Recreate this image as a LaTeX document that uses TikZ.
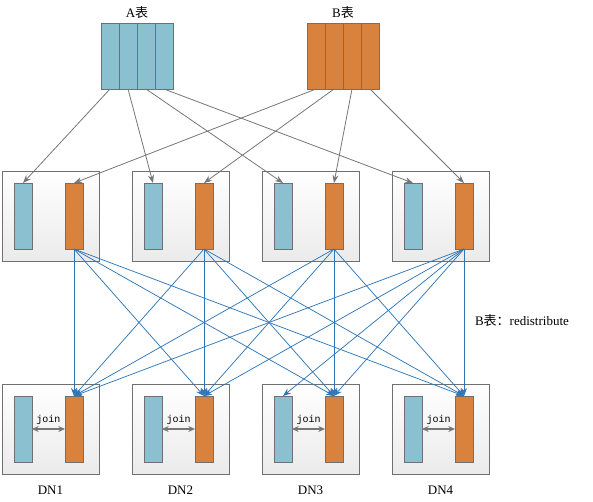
\documentclass[tikz,border=0pt]{standalone}
\usepackage{fontspec}
\setmainfont{Liberation Serif}
\setmonofont{Liberation Mono}
\newfontfamily\cjk{Noto Sans CJK SC}
\usetikzlibrary{arrows.meta,shadows}
\definecolor{barblue}{RGB}{139,192,209}
\definecolor{barorange}{RGB}{217,130,61}
\definecolor{edgegray}{RGB}{112,112,112}
\definecolor{linkblue}{RGB}{46,117,182}
\definecolor{arrgray}{RGB}{118,118,118}
\begin{document}
\begin{tikzpicture}[x=0.75pt,y=-0.75pt,
  every node/.style={inner sep=0pt,outer sep=0pt},
  box/.style={draw=edgegray,line width=0.75pt,top color=white,bottom color=black!8,
    minimum width=72.75pt,minimum height=67.5pt,
    drop shadow={opacity=0.18,shadow xshift=1pt,shadow yshift=-1pt}},
  bar/.style={draw=edgegray,line width=0.75pt,minimum width=13.5pt,minimum height=49.5pt},
  bluebar/.style={bar,fill=barblue},
  orangebar/.style={bar,fill=barorange},
  barsh/.style={drop shadow={opacity=0.2,shadow xshift=0.8pt,shadow yshift=-0.8pt}},
  grayarrow/.style={draw=arrgray,line width=0.6pt,-{Stealth[length=6pt,width=4.5pt]}},
  bluearrow/.style={draw=linkblue,line width=0.55pt,-{Stealth[length=6pt,width=4.5pt]}},
  joinarrow/.style={draw=arrgray,line width=0.9pt,{Stealth[length=5pt,width=4.5pt]}-{Stealth[length=5pt,width=4.5pt]}},
  lbl/.style={font=\fontsize{9.75}{12}\selectfont},
  joinlbl/.style={font=\ttfamily\fontsize{7.5}{9}\selectfont}
]
\useasboundingbox (0,0) rectangle (593,501);

% top tables
\foreach \i in {1,...,4}{
  \node[bluebar] (A\i) at ({110+18*(\i-1)},56) {};
  \node[orangebar] (B\i) at ({316+18*(\i-1)},56) {};
}
\node[lbl] (lblA) at (137,13) {A{\cjk 表}};
\node[lbl] (lblB) at (343,13) {B{\cjk 表}};

% middle and bottom boxes
\foreach \i in {1,...,4}{
  \node[box] (M\i) at ({50.5+130*(\i-1)},216) {};
  \node[bluebar,barsh] (MA\i) at ({23+130*(\i-1)},216) {};
  \node[orangebar,barsh] (MB\i) at ({74+130*(\i-1)},216) {};
  \node[box] (D\i) at ({50.5+130*(\i-1)},429) {};
  \node[bluebar,barsh] (DA\i) at ({23+130*(\i-1)},429) {};
  \node[orangebar,barsh] (DB\i) at ({74+130*(\i-1)},429) {};
  \node[lbl] (DN\i) at ({50.5+130*(\i-1)},490) {DN\i};
  \draw[joinarrow] (DA\i.east) -- (DB\i.west);
  \node[joinlbl] (J\i) at ({48.5+130*(\i-1)},420) {join};
}

% top to middle
\foreach \i in {1,...,4}{
  \draw[grayarrow] (A\i.south) -- (MA\i.north);
  \draw[grayarrow] (B\i.south) -- (MB\i.north);
}

% middle to bottom
\foreach \i in {1,...,4}{
  \foreach \j in {1,...,4}{
    \draw[bluearrow] (MB\i.south) -- (DB\j.north);
  }
}
\draw[bluearrow] (MB4.south) -- (DA3.north);

\node[lbl,anchor=west] (redis) at (475,321) {B{\cjk 表：}redistribute};
\end{tikzpicture}
\end{document}
